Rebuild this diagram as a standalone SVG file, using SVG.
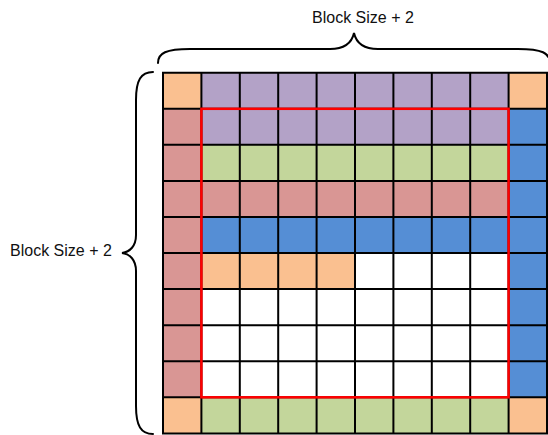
<svg xmlns="http://www.w3.org/2000/svg" width="548" height="435" viewBox="0 0 548 435">
  <defs>
    <style>
      .pe { fill: #FAC090; }
      .pu { fill: #B3A2C7; }
      .rd { fill: #D99694; }
      .gr { fill: #C3D69B; }
      .bl { fill: #558ED5; }
      .wh { fill: #FFFFFF; }
      .grid { stroke: #000; stroke-width: 2; fill: none; }
      .inner { stroke: #FF0000; stroke-width: 2.5; fill: none; }
      .brace { stroke: #000; stroke-width: 2; fill: none; stroke-linecap: round; }
      .lbl { font-family: "Liberation Sans", Arial, sans-serif; font-size: 16px; fill: #111; }
    </style>
  </defs>

  <rect width="548" height="435" fill="#FFFFFF"/>

  <!-- colour bands: columns are 38.4 wide from x=163, rows 36.07 high from y=72.7 -->
  <g id="cells">
    <!-- row 0 -->
    <rect class="pe" x="163" y="72.7" width="38.4" height="36.1"/>
    <rect class="pu" x="201.4" y="72.7" width="307.2" height="36.1"/>
    <rect class="pe" x="508.6" y="72.7" width="38.4" height="36.1"/>
    <!-- left column halo -->
    <rect class="rd" x="163" y="108.8" width="38.4" height="288.5"/>
    <!-- right column halo -->
    <rect class="bl" x="508.6" y="108.8" width="38.4" height="288.5"/>
    <!-- interior rows -->
    <rect class="pu" x="201.4" y="108.8" width="307.2" height="36.1"/>
    <rect class="gr" x="201.4" y="144.8" width="307.2" height="36.1"/>
    <rect class="rd" x="201.4" y="180.9" width="307.2" height="36.1"/>
    <rect class="bl" x="201.4" y="217" width="307.2" height="36.1"/>
    <rect class="pe" x="201.4" y="253" width="153.6" height="36.1"/>
    <rect class="wh" x="355" y="253" width="153.6" height="36.1"/>
    <rect class="wh" x="201.4" y="289.1" width="307.2" height="108.2"/>
    <!-- bottom row -->
    <rect class="pe" x="163" y="397.3" width="38.4" height="36.1"/>
    <rect class="gr" x="201.4" y="397.3" width="307.2" height="36.1"/>
    <rect class="pe" x="508.6" y="397.3" width="38.4" height="36.1"/>
  </g>

  <!-- 10 x 10 grid lines -->
  <g id="grid-lines" class="grid">
    <path d="M163,72.7V433.4M201.4,72.7V433.4M239.8,72.7V433.4M278.2,72.7V433.4M316.6,72.7V433.4M355,72.7V433.4M393.4,72.7V433.4M431.8,72.7V433.4M470.2,72.7V433.4M508.6,72.7V433.4M547,72.7V433.4"/>
    <path d="M162,72.7H548M162,108.8H548M162,144.8H548M162,180.9H548M162,217H548M162,253H548M162,289.1H548M162,325.2H548M162,361.3H548M162,397.3H548M162,433.4H548"/>
  </g>

  <!-- block boundary -->
  <rect id="block" class="inner" x="201.4" y="108.8" width="307.2" height="288.5"/>

  <!-- braces -->
  <g id="braces" class="brace">
    <path id="brace-top" d="M158,63 C158,53 166,49 190,49 L330,49 C345,49 352,42 354,33 C356,42 363,49 378,49 L518,49 C542,49 550,53 550,63"/>
    <path id="brace-left" d="M153,72 C141,72 136,80 136,100 L136,235 C136,246 130,252 122,253 C130,254 136,260 136,271 L136,406 C136,426 141,434 153,434"/>
  </g>

  <g id="labels">
    <text class="lbl" x="312" y="23">Block Size + 2</text>
    <text class="lbl" x="10" y="256">Block Size + 2</text>
  </g>
</svg>
